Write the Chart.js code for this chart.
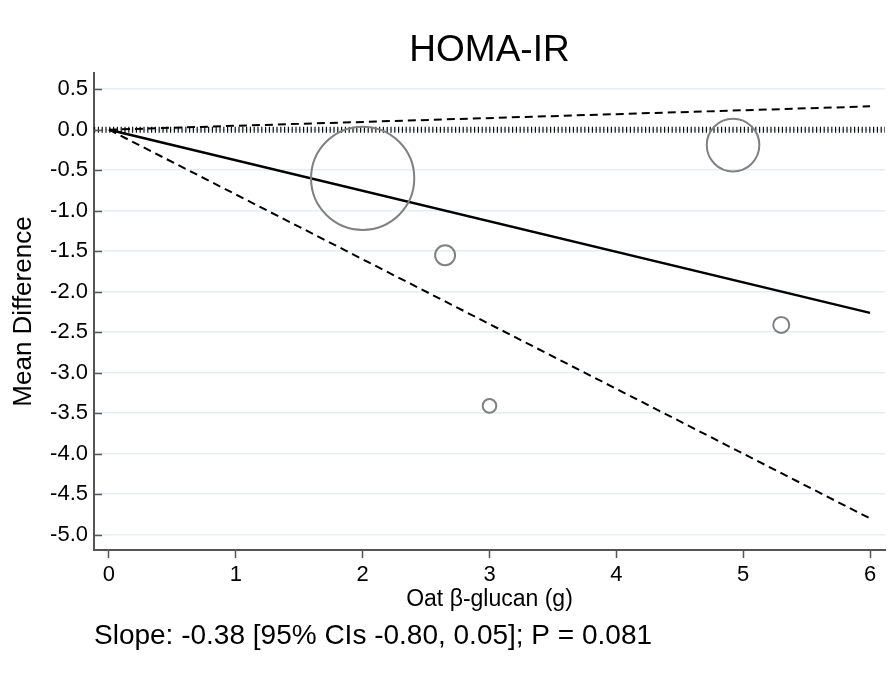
<!DOCTYPE html>
<html>
<head>
<meta charset="utf-8">
<title>HOMA-IR</title>
<script src="https://cdn.jsdelivr.net/npm/chart.js@4.4.0/dist/chart.umd.min.js"></script>
<style>
  body { margin: 0; background: #fff; }
  #wrap { width: 892px; height: 674px; }
</style>
</head>
<body>
<div id="wrap"><canvas id="chart" width="892" height="674"></canvas></div>
<script>
// study points (dose in g, mean difference, relative weight %)
const studyDose = [2.0, 4.92, 2.65, 3.0, 5.3];
const studyMD = [-0.6, -0.19, -1.55, -3.41, -2.41];
const studyWeight = [74.7, 19.4, 2.8, 1.3, 1.8];

// meta-regression slope and its 95% CI
const fitSlope = -0.377;
const ciLower = -0.8;
const ciUpper = 0.048;
const lineX = [0, 6];

const xTicks = [0, 1, 2, 3, 4, 5, 6];
const yTicks = [0.5, 0, -0.5, -1, -1.5, -2, -2.5, -3, -3.5, -4, -4.5, -5];
const xMin = -0.118, xMax = 6.118;
const yMin = -5.19, yMax = 0.7;

const FONT = "'Liberation Sans', Arial, Helvetica, sans-serif";
const AXIS = "#555555";

function linePoints(slope) {
  return lineX.map((x) => ({ x: x, y: slope * x }));
}

// y ticks point inward in the original, so draw them ourselves
const inwardTicks = {
  id: "inwardTicks",
  afterDraw(chart) {
    const ctx = chart.ctx;
    const y = chart.scales.y;
    const left = chart.chartArea.left;
    ctx.save();
    ctx.strokeStyle = AXIS;
    ctx.lineWidth = 1.5;
    yTicks.forEach((v) => {
      const py = Math.round(y.getPixelForValue(v)) + 0.5;
      ctx.beginPath();
      ctx.moveTo(left, py);
      ctx.lineTo(left + 8, py);
      ctx.stroke();
    });
    ctx.restore();
  },
};

const ctx = document.getElementById("chart").getContext("2d");
new Chart(ctx, {
  type: "scatter",
  data: {
    datasets: [
      {
        type: "bubble",
        label: "Studies",
        data: studyDose.map((d, i) => ({
          x: d,
          y: studyMD[i],
          r: 5.97 * Math.sqrt(studyWeight[i]),
        })),
        backgroundColor: "rgba(0,0,0,0)",
        borderColor: "#808080",
        borderWidth: 2,
        hoverBorderWidth: 2,
        order: 1,
      },
      {
        type: "line",
        label: "Fit",
        data: linePoints(fitSlope),
        borderColor: "#000",
        borderWidth: 2.5,
        pointRadius: 0,
        fill: false,
        order: 2,
      },
      {
        type: "line",
        label: "Lower CI",
        data: linePoints(ciLower),
        borderColor: "#000",
        borderWidth: 2,
        borderDash: [8, 5],
        pointRadius: 0,
        fill: false,
        order: 3,
      },
      {
        type: "line",
        label: "Upper CI",
        data: linePoints(ciUpper),
        borderColor: "#000",
        borderWidth: 2,
        borderDash: [8, 5],
        pointRadius: 0,
        fill: false,
        order: 4,
      },
      {
        type: "line",
        label: "Zero",
        data: [
          { x: xMin, y: 0 },
          { x: xMax, y: 0 },
        ],
        borderColor: "#111",
        borderWidth: 6,
        borderDash: [1.2, 2.6],
        pointRadius: 0,
        fill: false,
        order: 5,
      },
    ],
  },
  options: {
    responsive: false,
    animation: false,
    devicePixelRatio: 1,
    events: [],
    layout: {
      autoPadding: false,
      padding: { left: 2, right: 7, top: 0, bottom: 20.5 },
    },
    plugins: {
      legend: { display: false },
      tooltip: { enabled: false },
      title: {
        display: true,
        fullSize: false,
        text: "HOMA-IR",
        color: "#000",
        font: { family: FONT, size: 37, weight: "normal" },
        padding: { top: 28.6, bottom: 0 },
      },
      subtitle: {
        display: true,
        position: "bottom",
        align: "start",
        fullSize: false,
        text: "Slope: -0.38 [95% CIs -0.80, 0.05]; P = 0.081",
        color: "#000",
        font: { family: FONT, size: 28, weight: "normal" },
        padding: { top: 0.9, bottom: 0 },
      },
    },
    scales: {
      x: {
        type: "linear",
        min: xMin,
        max: xMax,
        afterBuildTicks: (s) => {
          s.ticks = xTicks.map((v) => ({ value: v }));
        },
        grid: {
          drawOnChartArea: false,
          drawTicks: true,
          tickLength: 8,
          tickColor: AXIS,
          tickWidth: 1.5,
        },
        border: { display: true, color: AXIS, width: 2 },
        ticks: {
          color: "#000",
          padding: 6,
          maxRotation: 0,
          font: { family: FONT, size: 22, lineHeight: 1.0 },
          callback: (v) => String(v),
        },
        title: {
          display: true,
          text: "Oat β-glucan (g)",
          color: "#000",
          font: { family: FONT, size: 23, lineHeight: 0.65 },
          padding: { top: 0, bottom: 12 },
        },
      },
      y: {
        type: "linear",
        min: yMin,
        max: yMax,
        afterBuildTicks: (s) => {
          s.ticks = yTicks.map((v) => ({ value: v }));
        },
        grid: {
          color: "#e6eef1",
          lineWidth: 1.5,
          drawTicks: false,
        },
        border: { display: true, color: AXIS, width: 2 },
        ticks: {
          color: "#000",
          padding: 6,
          font: { family: FONT, size: 22 },
          callback: (v) => Number(v).toFixed(1),
        },
        title: {
          display: true,
          text: "Mean Difference",
          color: "#000",
          font: { family: FONT, size: 26 },
          padding: { top: 6.4, bottom: 4.5 },
        },
      },
    },
  },
  plugins: [inwardTicks],
});
</script>
</body>
</html>
